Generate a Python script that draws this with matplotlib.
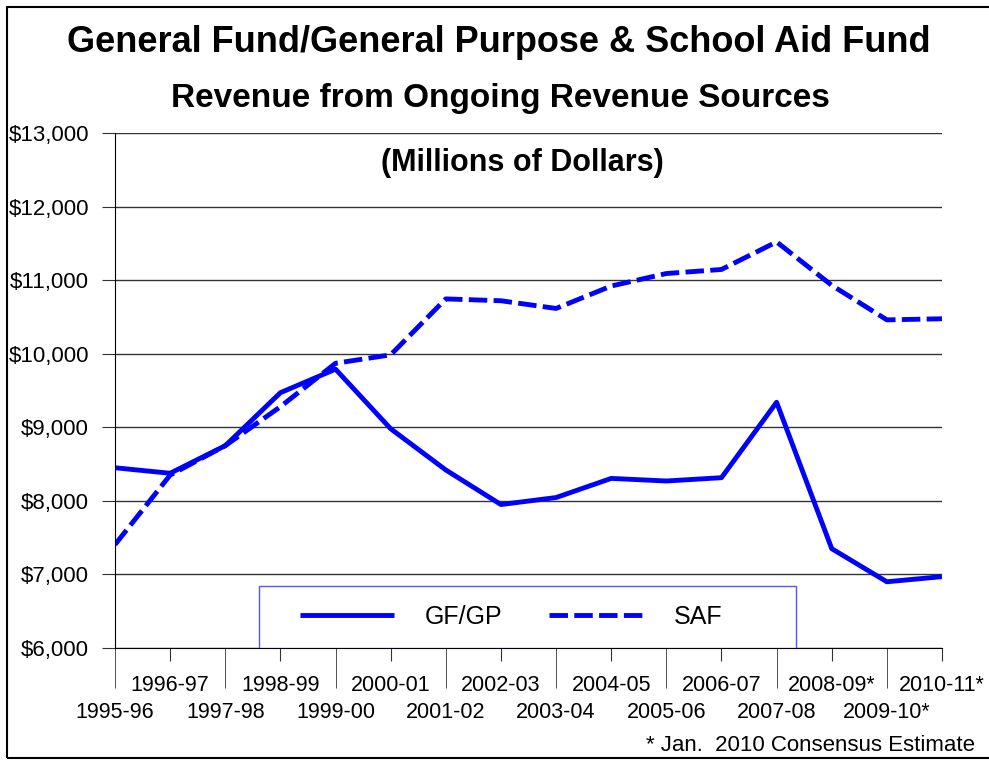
import numpy as np
import matplotlib
matplotlib.use('Agg')
import matplotlib.pyplot as plt
from matplotlib.patches import Rectangle

plt.rcParams['font.family'] = ['Liberation Sans', 'DejaVu Sans']

# dados (milhoes de dolares)
anos = ['1995-96', '1996-97', '1997-98', '1998-99', '1999-00', '2000-01',
        '2001-02', '2002-03', '2003-04', '2004-05', '2005-06', '2006-07',
        '2007-08', '2008-09*', '2009-10*', '2010-11*']
gfgp = [8450, 8375, 8750, 9470, 9790, 8980, 8420, 7950, 8045, 8305,
        8270, 8315, 9340, 7350, 6900, 6970]
saf = [7405, 8350, 8750, 9280, 9870, 9985, 10745, 10720, 10615, 10920,
       11090, 11145, 11520, 10930, 10460, 10475]
y_ticks = [6000, 7000, 8000, 9000, 10000, 11000, 12000, 13000]

fig = plt.figure(figsize=(9.89, 7.61), dpi=100)
ax = fig.add_axes([115/989, 1-648/761, (942-115)/989, (648-133)/761])

x = np.arange(len(anos))
ax.plot(x, gfgp, color='#0000ff', lw=3.5, solid_capstyle='butt', label='GF/GP')
ax.plot(x, saf, color='#0000ff', lw=3.5, dashes=(3.8, 1.3), label='SAF')

ax.set_xlim(0, len(anos) - 1)
ax.set_ylim(6000, 13000)
ax.set_yticks(y_ticks)
ax.set_yticklabels([f'${v:,}' for v in y_ticks], fontsize=16)
ax.grid(axis='y', color='#333333', lw=1)
ax.set_axisbelow(True)

# rotulos em duas linhas: impares em cima, pares embaixo
ax.set_xticks(x[1::2])
ax.set_xticklabels(anos[1::2], fontsize=15.5)
ax.set_xticks(x[0::2], minor=True)
ax.set_xticklabels(anos[0::2], minor=True, fontsize=15.5)
ax.tick_params(axis='x', which='major', length=9.6, pad=9.5, color='#333333')
ax.tick_params(axis='x', which='minor', length=28.8, pad=10, color='#333333')
ax.tick_params(axis='y', length=9.4, pad=9.4, color='#333333')

for s in ['top', 'right']:
    ax.spines[s].set_visible(False)
ax.spines['left'].set_color('black')
ax.spines['bottom'].set_color('black')

# caixa da legenda
caixa = Rectangle(((259-115)/827, 0), (796-259)/827, (648-586)/515, transform=ax.transAxes,
                  facecolor='white', edgecolor='#5555ff', lw=1, zorder=4)
ax.add_patch(caixa)
leg = ax.legend(loc='center left', bbox_to_anchor=((300-115)/827, (648-617)/515),
                borderaxespad=0, borderpad=0, ncol=2, fontsize=18, handlelength=3.76,
                handletextpad=1.24, columnspacing=1.84, frameon=False)
leg.set_zorder(5)

fig.text(499/989, 1-52/761, 'General Fund/General Purpose & School Aid Fund',
         ha='center', va='baseline', fontsize=26, fontweight='bold')
fig.text(500/989, 1-107/761, 'Revenue from Ongoing Revenue Sources',
         ha='center', va='baseline', fontsize=24, fontweight='bold')
fig.text(522/989, 1-171/761, '(Millions of Dollars)',
         ha='center', va='baseline', fontsize=22, fontweight='bold')
fig.text(975/989, 1-751/761, '* Jan.  2010 Consensus Estimate',
         ha='right', va='baseline', fontsize=16)

# moldura
fig.patches.append(Rectangle((7/989, 1-758/761), 1.0, (758-7)/761, fill=False,
                             edgecolor='black', lw=1.5, transform=fig.transFigure))

fig.savefig('out.png', dpi=100)
